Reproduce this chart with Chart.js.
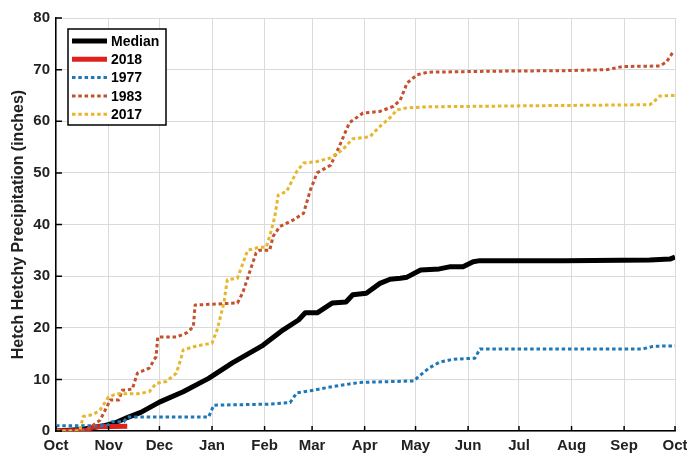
<!DOCTYPE html>
<html>
<head>
<meta charset="utf-8">
<script src="https://cdn.jsdelivr.net/npm/chart.js@4.4.1/dist/chart.umd.min.js"></script>
<style>
  html, body { margin: 0; padding: 0; background: #fff; }
  canvas { display: block; }
</style>
</head>
<body>
<canvas id="chart" width="687" height="454"></canvas>
<script>
// days since Oct 1, water year
const monthStarts = [0, 31, 61, 92, 123, 151, 182, 212, 243, 273, 304, 335, 365];
const monthLabels = ["Oct", "Nov", "Dec", "Jan", "Feb", "Mar", "Apr", "May", "Jun", "Jul", "Aug", "Sep", "Oct"];

const medianDays = [0, 15, 28, 35, 42, 50, 61, 75, 90, 104, 122, 134, 143, 147, 154, 163, 171, 175, 183, 191, 197, 203, 207, 215, 226, 232, 240, 246, 250, 300, 350, 362, 365];
const medianVals = [0, 0.3, 1.0, 1.6, 2.6, 3.6, 5.6, 7.6, 10.2, 13.2, 16.6, 19.6, 21.5, 22.9, 22.9, 24.8, 25.0, 26.4, 26.7, 28.6, 29.4, 29.6, 29.8, 31.2, 31.4, 31.8, 31.8, 32.8, 33.0, 33.0, 33.1, 33.3, 33.7];

const days2018 = [0, 18, 22, 42];
const vals2018 = [0, 0.1, 0.8, 0.9];

const days1977 = [0, 30, 33, 40, 42, 90, 93, 125, 138, 142, 150, 163, 179, 211, 214, 220, 226, 234, 247, 250, 346, 352, 365];
const vals1977 = [1.0, 1.0, 1.8, 1.8, 2.7, 2.7, 5.0, 5.2, 5.5, 7.4, 7.8, 8.6, 9.4, 9.7, 10.6, 12.2, 13.3, 13.9, 14.1, 15.9, 15.9, 16.4, 16.5];

const days1983 = [0, 18, 26, 32, 37, 39, 45, 48, 55, 59, 60, 71, 77, 81, 82, 107, 110, 114, 118, 120, 126, 128, 132, 140, 146, 150, 154, 162, 167, 173, 181, 191, 199, 203, 207, 213, 219, 260, 300, 325, 334, 356, 360, 364];
const vals1983 = [0, 0.2, 2.1, 6.0, 6.0, 7.9, 8.1, 11.2, 12.2, 14.4, 18.2, 18.2, 19.0, 20.2, 24.4, 24.8, 26.7, 30.6, 34.5, 35.0, 35.0, 37.7, 39.6, 40.9, 42.2, 46.7, 50.0, 51.5, 55.1, 59.7, 61.6, 61.9, 62.9, 64.1, 67.4, 69.0, 69.5, 69.7, 69.8, 70.0, 70.6, 70.7, 71.5, 73.5];

const days2017 = [0, 14, 16, 22, 26, 31, 36, 48, 55, 59, 65, 71, 74, 75, 83, 92, 95, 99, 101, 107, 113, 120, 124, 127, 129, 131, 136, 142, 146, 154, 162, 169, 175, 185, 191, 197, 201, 207, 220, 280, 350, 352, 356, 365];
const vals2017 = [0, 0, 2.8, 3.2, 4.1, 6.6, 7.2, 7.2, 7.6, 9.2, 9.6, 11.2, 14.4, 15.7, 16.5, 17.0, 19.6, 24.8, 29.3, 29.6, 35.0, 35.6, 35.6, 38.9, 41.5, 45.7, 46.4, 50.3, 51.9, 52.2, 52.9, 54.5, 56.6, 57.0, 59.0, 60.7, 62.2, 62.6, 62.8, 63.0, 63.2, 63.6, 64.9, 65.0];

const pts = (xs, ys) => xs.map((x, i) => ({ x: x, y: ys[i] }));

const FONT = "'Liberation Sans', Arial, sans-serif";
const tickFont = { family: FONT, size: 15, weight: "bold" };
const gridColor = "#dadada";

// MATLAB style ticks pointing into the plot
const inwardTicks = {
  id: "inwardTicks",
  afterDatasetsDraw(chart) {
    const { ctx, chartArea, scales } = chart;
    ctx.save();
    ctx.strokeStyle = "#000";
    ctx.lineWidth = 1.5;
    ctx.beginPath();
    scales.x.ticks.forEach(t => {
      const px = scales.x.getPixelForValue(t.value);
      ctx.moveTo(px, chartArea.bottom);
      ctx.lineTo(px, chartArea.bottom - 5);
    });
    scales.y.ticks.forEach(t => {
      const py = scales.y.getPixelForValue(t.value);
      ctx.moveTo(chartArea.left, py);
      ctx.lineTo(chartArea.left + 6, py);
    });
    ctx.stroke();
    ctx.restore();
  }
};

// boxed legend inside the plot, top left
const boxLegend = {
  id: "boxLegend",
  afterDraw(chart) {
    const { ctx, chartArea } = chart;
    const sets = chart.data.datasets;
    const x0 = chartArea.left + 12, y0 = chartArea.top + 11, w = 98, rowH = 18.3;
    const h = 96;
    ctx.save();
    ctx.fillStyle = "#fff";
    ctx.fillRect(x0, y0, w, h);
    ctx.strokeStyle = "#000";
    ctx.lineWidth = 1.5;
    ctx.strokeRect(x0, y0, w, h);
    ctx.font = "bold 14px " + FONT;
    ctx.textBaseline = "middle";
    sets.forEach((ds, i) => {
      const y = y0 + 12 + i * rowH;
      ctx.beginPath();
      ctx.strokeStyle = ds.borderColor;
      ctx.lineWidth = ds.borderWidth;
      ctx.setLineDash(ds.borderDash || []);
      ctx.moveTo(x0 + 4, y);
      ctx.lineTo(x0 + 39, y);
      ctx.stroke();
      ctx.setLineDash([]);
      ctx.fillStyle = "#000";
      ctx.fillText(ds.label, x0 + 43, y + 1);
    });
    ctx.restore();
  }
};

const dotted = [3.5, 2.8];

const chart = new Chart(document.getElementById("chart").getContext("2d"), {
  type: "line",
  data: {
    datasets: [
      { label: "Median", data: pts(medianDays, medianVals), borderColor: "#000", borderWidth: 5, order: 5 },
      { label: "2018", data: pts(days2018, vals2018), borderColor: "#e0201b", borderWidth: 5, order: 4 },
      { label: "1977", data: pts(days1977, vals1977), borderColor: "#1c78b8", borderWidth: 3, borderDash: dotted, order: 3 },
      { label: "1983", data: pts(days1983, vals1983), borderColor: "#c4502e", borderWidth: 3, borderDash: dotted, order: 2 },
      { label: "2017", data: pts(days2017, vals2017), borderColor: "#e6b62c", borderWidth: 3, borderDash: dotted, order: 1 },
    ],
  },
  options: {
    responsive: false,
    animation: false,
    events: [],
    elements: {
      point: { radius: 0 },
      line: { tension: 0, fill: false, borderJoinStyle: "round", borderCapStyle: "butt" },
    },
    layout: { padding: { top: 18, right: 12, left: 0, bottom: 0 } },
    scales: {
      x: {
        type: "linear",
        min: 0,
        max: 365,
        afterBuildTicks: s => { s.ticks = monthStarts.map(v => ({ value: v })); },
        ticks: {
          callback: (v, i) => monthLabels[i],
          autoSkip: false,
          maxRotation: 0,
          padding: 6,
          color: "#222",
          font: tickFont,
        },
        grid: { color: gridColor, lineWidth: 1, drawTicks: false },
        border: { color: "#000", width: 1.5 },
        afterFit: s => { s.height = 23; s.paddingLeft = 0; s.paddingRight = 0; },
      },
      y: {
        min: 0,
        max: 80,
        ticks: { stepSize: 10, padding: 6, color: "#222", font: tickFont },
        grid: { color: gridColor, lineWidth: 1, drawTicks: false },
        border: { color: "#000", width: 1.5 },
        title: {
          display: true,
          text: "Hetch Hetchy Precipitation (inches)",
          color: "#222",
          font: { family: FONT, size: 16, weight: "bold" },
          padding: { top: 9, bottom: 0 },
        },
        afterFit: s => { s.width = 56; s.paddingTop = 0; s.paddingBottom = 0; },
      },
    },
    plugins: {
      legend: { display: false },
      tooltip: { enabled: false },
    },
  },
  plugins: [inwardTicks, boxLegend],
});
</script>
</body>
</html>
